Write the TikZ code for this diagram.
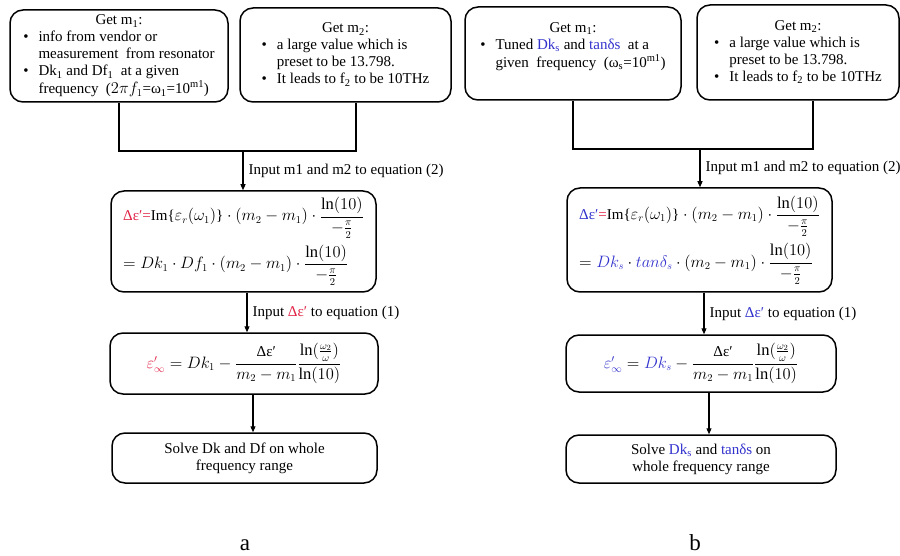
\documentclass[tikz,border=0pt]{standalone}
\usepackage{fix-cm}
\usepackage{amsmath}
\usepackage{fontspec}
\setmainfont{Liberation Serif}
\usepackage{xcolor}
\usetikzlibrary{arrows.meta}
\DeclareMathSizes{15}{16.5}{10.5}{8}
\definecolor{eqred}{RGB}{225,35,70}
\definecolor{eqblue}{RGB}{50,50,205}

\begin{document}
\begin{tikzpicture}[x=1pt, y=-1pt,
        font=\fontsize{15}{17}\selectfont,
        box/.style={draw, line width=1.5pt, rounded corners=13pt, inner sep=0pt, align=center},
        conn/.style={line width=1.1pt},
        arr/.style={conn, -{Triangle[length=6pt,width=5pt]}},
        lbl/.style={inner sep=0pt, anchor=west, xshift=5pt},
        tag/.style={font=\fontsize{23}{26}\selectfont, anchor=base}
      ]
  \useasboundingbox (0,0) rectangle (900,556);

  % panel a
  \node[box, minimum width=218pt, minimum height=92pt] (mOneA) at (119,56) {%
    \begin{tabular}{@{}l@{\hspace{10pt}}l@{}}
      \multicolumn{2}{c}{Get m\textsubscript{1}:}\\
      \textbullet & info from vendor or\\
                  & measurement~ from resonator\\
      \textbullet & Dk\textsubscript{1} and Df\textsubscript{1}~ at a given\\
                  & frequency~ ($2\pi f_{1}$=ω\textsubscript{1}=10\textsuperscript{m1})
    \end{tabular}};
  \node[box, minimum width=211pt, minimum height=94pt] (mTwoA) at (345.5,55) {%
    \begin{tabular}{@{}l@{\hspace{10pt}}l@{}}
      \multicolumn{2}{c}{Get m\textsubscript{2}:}\\
      \textbullet & a large value which is\\
                  & preset to be 13.798.\\
      \textbullet & It leads to f\textsubscript{2} to be 10THz
    \end{tabular}};
  \node[box, align=left, minimum width=265pt, minimum height=101pt] (eqA1) at (243.5,241.5) {%
    {\color{eqred}Δε′=}Im\{$\varepsilon_r(\omega_1)$\}~$\cdot$~$(m_2-m_1)\cdot\dfrac{\ln(10)}{-\frac{\pi}{2}}$\\[6pt]
    $=Dk_1\cdot Df_1\cdot(m_2-m_1)\cdot\dfrac{\ln(10)}{-\frac{\pi}{2}}$};
  \node[box, minimum width=268pt, minimum height=61pt] (eqA2) at (244,363.5) {%
    ${\color{eqred}\varepsilon'_\infty}=Dk_1-\dfrac{\text{Δε′}}{m_2-m_1}\dfrac{\ln(\frac{\omega_2}{\omega})}{\ln(10)}$};
  \node[box, minimum width=265pt, minimum height=50pt] (solveA) at (244.5,458) {%
    Solve Dk and Df on whole\\frequency range};
  \node[tag] (tagA) at (245,550) {a};

  \coordinate (jA) at (243,151);
  \draw[conn] (mOneA.south) |- (jA) -| ([xshift=10.5pt]mTwoA.south);
  \draw[arr] (jA) -- node[lbl] {Input m1 and m2 to equation (2)} (jA |- eqA1.north);
  \draw[arr] ([xshift=3.5pt]eqA1.south) -- node[lbl] {Input {\color{eqred}Δε′} to equation (1)} ([xshift=3pt]eqA2.north);
  \draw[arr] ([xshift=9pt]eqA2.south) -- ([xshift=8.5pt]solveA.north);

  % panel b
  \node[box, minimum width=216pt, minimum height=93pt] (mOneB) at (573,53.5) {%
    \begin{tabular}{@{}l@{\hspace{10pt}}l@{}}
      \multicolumn{2}{c}{Get m\textsubscript{1}:}\\
      \textbullet & Tuned {\color{eqblue}Dk\textsubscript{s}} and {\color{eqblue}tanδs}~ at a\\
                  & given~ frequency~ (ω\textsubscript{s}=10\textsuperscript{m1})\\[14pt]
    \end{tabular}};
  \node[box, minimum width=202pt, minimum height=95pt] (mTwoB) at (798,52.5) {%
    \begin{tabular}{@{}l@{\hspace{10pt}}l@{}}
      \multicolumn{2}{c}{Get m\textsubscript{2}:}\\
      \textbullet & a large value which is\\
                  & preset to be 13.798.\\
      \textbullet & It leads to f\textsubscript{2} to be 10THz
    \end{tabular}};
  \node[box, align=left, minimum width=265pt, minimum height=104pt] (eqB1) at (699.5,240) {%
    {\color{eqblue}Δε′}{\color{eqred}=}Im\{$\varepsilon_r(\omega_1)$\}~$\cdot$~$(m_2-m_1)\cdot\dfrac{\ln(10)}{-\frac{\pi}{2}}$\\[6pt]
    $={\color{eqblue}Dk_s}\cdot{\color{eqblue}tan\delta_s}\cdot(m_2-m_1)\cdot\dfrac{\ln(10)}{-\frac{\pi}{2}}$};
  \node[box, minimum width=270pt, minimum height=57pt] (eqB2) at (701,363.5) {%
    ${\color{eqblue}\varepsilon'_\infty}={\color{eqblue}Dk_s}-\dfrac{\text{Δε′}}{m_2-m_1}\dfrac{\ln(\frac{\omega_2}{\omega})}{\ln(10)}$};
  \node[box, minimum width=270pt, minimum height=48pt] (solveB) at (701,459) {%
    Solve {\color{eqblue}Dk\textsubscript{s}} and {\color{eqblue}tanδs} on\\whole frequency range};
  \node[tag] (tagB) at (695,550) {b};

  \coordinate (jB) at (700,149);
  \draw[conn] (mOneB.south) |- (jB) -| ([xshift=15pt]mTwoB.south);
  \draw[arr] (jB) -- node[lbl] {Input m1 and m2 to equation (2)} (jB |- eqB1.north);
  \draw[arr] ([xshift=4.5pt]eqB1.south) -- node[lbl] {Input {\color{eqblue}Δε′} to equation (1)} ([xshift=3pt]eqB2.north);
  \draw[arr] ([xshift=8pt]eqB2.south) -- ([xshift=8pt]solveB.north);

\end{tikzpicture}
\end{document}
